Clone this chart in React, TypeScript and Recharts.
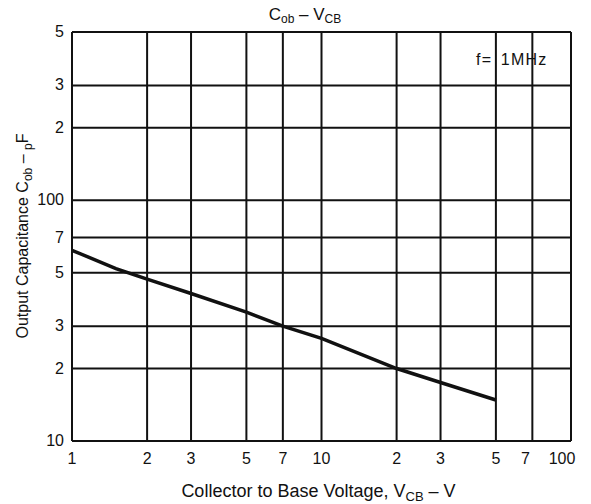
import React from "react";
import { LineChart, Line, XAxis, YAxis, CartesianGrid } from "recharts";

// Cob vs VCB
const vcb = [1, 1.5, 2, 3, 5, 7, 10, 20, 30, 50];
const cob = [62, 52, 47, 41, 34.3, 30, 26.7, 20, 17.5, 14.8];

const xTicks = [1, 2, 3, 5, 7, 10, 20, 30, 50, 70, 100];
const yTicks = [10, 20, 30, 50, 70, 100, 200, 300, 500];

const data = vcb.map((v, i) => ({ vcb: v, cob: cob[i] }));

const FONT = "'Liberation Sans', Arial, Helvetica, sans-serif";
const INK = "#111";

// decade values keep their number, the rest show only the leading digit
const fmt = (v: number) => {
  const lg = Math.log10(v);
  if (Math.abs(lg - Math.round(lg)) < 1e-9) return String(v);
  return String(Math.round(v / Math.pow(10, Math.floor(lg))));
};

const XTick = (props: any) => {
  const { x, y, payload } = props;
  const v = payload.value;
  const dx = v === 100 ? -9 : v === 70 ? -7 : 0;
  return (
    <text x={x + dx} y={y + 15} textAnchor="middle" fontSize={16} fontFamily={FONT} fill={INK}>
      {fmt(v)}
    </text>
  );
};

const YTick = (props: any) => {
  const { x, y, payload } = props;
  return (
    <text x={x} y={y + 5} textAnchor="end" fontSize={16} fontFamily={FONT} fill={INK}>
      {fmt(payload.value)}
    </text>
  );
};

const XLabel = (props: any) => {
  const vb = props.viewBox;
  return (
    <text x={vb.x + vb.width / 2 - 3} y={vb.y + 56} textAnchor="middle" fontSize={18} fontFamily={FONT} fill={INK}>
      Collector to Base Voltage, V
      <tspan fontSize={13} dy={4}>CB</tspan>
      <tspan dy={-4}> – V</tspan>
    </text>
  );
};

const YLabel = () => {
  const cx = 28;
  const cy = 236;
  return (
    <text
      x={cx}
      y={cy}
      transform={`rotate(-90 ${cx} ${cy})`}
      textAnchor="middle"
      fontSize={16}
      fontFamily={FONT}
      fill={INK}
    >
      Output Capacitance C
      <tspan fontSize={12} dy={4}>ob</tspan>
      <tspan dy={-4}> – </tspan>
      <tspan fontSize={12} dy={4}>p</tspan>
      <tspan dy={-4}>F</tspan>
    </text>
  );
};

export default function App() {
  return (
    <div style={{ position: "absolute", left: 0, top: 0, width: 591, height: 504, background: "#fff" }}>
      <LineChart width={591} height={504} data={data} margin={{ top: 32, right: 20, bottom: 0, left: 0 }}>
        <CartesianGrid stroke={INK} strokeWidth={2} />
        <XAxis
          dataKey="vcb"
          type="number"
          scale="log"
          domain={[1, 100]}
          ticks={xTicks}
          interval={0}
          allowDataOverflow
          axisLine={{ stroke: INK, strokeWidth: 2 }}
          tickLine={false}
          tick={<XTick />}
          height={63}
          label={<XLabel />}
        />
        <YAxis
          dataKey="cob"
          type="number"
          scale="log"
          domain={[10, 500]}
          ticks={yTicks}
          interval={0}
          allowDataOverflow
          axisLine={{ stroke: INK, strokeWidth: 2 }}
          tickLine={false}
          tick={<YTick />}
          width={72}
          label={<YLabel />}
        />
        <Line
          dataKey="cob"
          type="linear"
          stroke={INK}
          strokeWidth={3.5}
          dot={false}
          isAnimationActive={false}
        />
      </LineChart>
      <svg
        width={591}
        height={504}
        style={{ position: "absolute", left: 0, top: 0, pointerEvents: "none" }}
      >
        <text x={305} y={20} textAnchor="middle" fontSize={17} fontFamily={FONT} fill={INK}>
          C
          <tspan fontSize={12} dy={3}>ob</tspan>
          <tspan dy={-3}> – V</tspan>
          <tspan fontSize={12} dy={3}>CB</tspan>
        </text>
        <text x={476} y={65} fontSize={16} fontFamily={FONT} fill={INK} letterSpacing={1.2} wordSpacing={3}>
          f= 1MHz
        </text>
      </svg>
    </div>
  );
}
